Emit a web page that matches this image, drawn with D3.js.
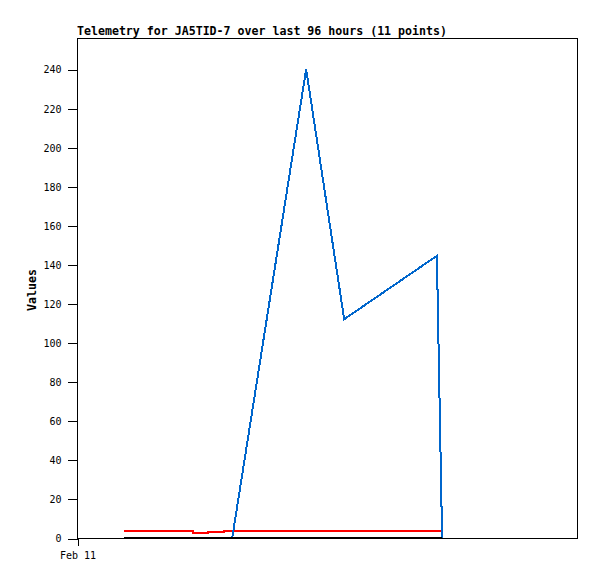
<!DOCTYPE html>
<html>
<head>
<meta charset="utf-8">
<script src="https://cdn.jsdelivr.net/npm/d3@7"></script>
<style>
  body { margin: 0; background: #fff; }
  svg { display: block; }
  text { font-family: "DejaVu Sans Mono", "Liberation Mono", monospace; }
</style>
</head>
<body>
<svg id="chart" width="597" height="579"></svg>
<script>
const title = "Telemetry for JA5TID-7 over last 96 hours (11 points)";
const yLabel = "Values";
const startDate = new Date(2024, 1, 11, 0, 0, 0);
const spanHours = 96;
// sample times, hours after start
const hours = [9.0, 22.3, 25.2, 28.3, 29.8, 44.0, 51.3, 69.1, 70.1];
const redValues = [3.7, 2.7, 3.2, 3.7, 3.7, 3.7, 3.7, 3.7, 3.7];
const blueValues = [0, 0, 0, 0, 0, 240, 112, 144.5, 0];
const blackValues = [0, 0, 0, 0, 0, 0, 0, 0, 0];
const yTicks = [0, 20, 40, 60, 80, 100, 120, 140, 160, 180, 200, 220, 240];
const xTickLabels = ["Feb 11"];
const yMax = 256;

const svg = d3.select("#chart");
const m = { left: 77, top: 38, right: 20, bottom: 41 };
const W = 597, H = 579;
const iw = W - m.left - m.right, ih = H - m.top - m.bottom;

const times = hours.map(h => new Date(startDate.getTime() + h * 3600e3));
const x = d3.scaleTime()
  .domain([startDate, new Date(startDate.getTime() + spanHours * 3600e3)])
  .range([m.left, m.left + iw]);
const y = d3.scaleLinear().domain([0, yMax]).range([m.top + ih, m.top]);

// frame
svg.append("rect")
  .attr("x", m.left + 0.5).attr("y", m.top + 0.5)
  .attr("width", iw).attr("height", ih)
  .attr("fill", "none").attr("stroke", "#000").attr("stroke-width", 1)
  .attr("shape-rendering", "crispEdges");

// y axis
const yAxis = d3.axisLeft(y).tickValues(yTicks).tickSize(10).tickPadding(6);
const gy = svg.append("g").attr("transform", `translate(${m.left + 0.5},0.5)`).call(yAxis);
gy.select(".domain").remove();
gy.selectAll("line").attr("shape-rendering", "crispEdges");
gy.selectAll("text").attr("font-size", 10).attr("fill", "#000")
  .style("font-family", "'DejaVu Sans Mono', monospace");

// x axis
const xAxis = d3.axisBottom(x).tickValues([startDate]).tickFormat((d, i) => xTickLabels[i])
  .tickSize(7).tickPadding(6);
const gx = svg.append("g").attr("transform", `translate(0.5,${m.top + ih + 0.5})`).call(xAxis);
gx.select(".domain").remove();
gx.selectAll("line").attr("shape-rendering", "crispEdges");
gx.selectAll("text").attr("font-size", 10).attr("fill", "#000")
  .style("font-family", "'DejaVu Sans Mono', monospace");

// lines
const stepLine = d3.line().x((d, i) => x(times[i])).y(d => y(d)).curve(d3.curveStepAfter);
const linLine = d3.line().x((d, i) => x(times[i])).y(d => y(d));

svg.append("path").datum(redValues).attr("d", stepLine)
  .attr("fill", "none").attr("stroke", "#ff0000").attr("stroke-width", 2)
  .attr("shape-rendering", "crispEdges");
svg.append("path").datum(blueValues).attr("d", linLine)
  .attr("fill", "none").attr("stroke", "#0066cc").attr("stroke-width", 2)
  .attr("shape-rendering", "crispEdges");
svg.append("path").datum(blackValues).attr("d", linLine)
  .attr("fill", "none").attr("stroke", "#000000").attr("stroke-width", 2)
  .attr("shape-rendering", "crispEdges");

// title
svg.append("text").attr("x", m.left).attr("y", 35)
  .attr("font-size", 11.6).attr("font-weight", "bold").attr("fill", "#000")
  .text(title);

// y label
svg.append("text")
  .attr("transform", `translate(36,${m.top + ih / 2 + 2}) rotate(-90)`)
  .attr("text-anchor", "middle")
  .attr("font-size", 11.6).attr("font-weight", "bold").attr("fill", "#000")
  .text(yLabel);
</script>
</body>
</html>
